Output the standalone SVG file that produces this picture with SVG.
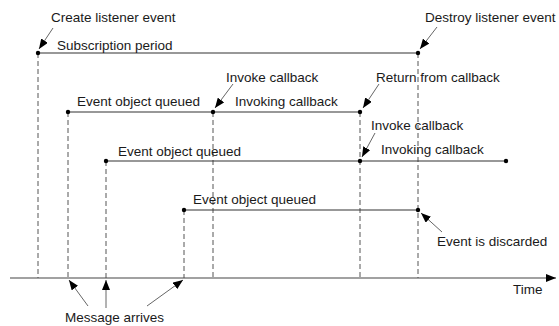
<svg xmlns="http://www.w3.org/2000/svg" width="559" height="326" viewBox="0 0 559 326">
<defs>
<style>
text{font-family:"Liberation Sans",Arial,sans-serif;font-size:13.5px;fill:#1a1a1a}
.tl{stroke:#333;stroke-width:1.2;fill:none}
.ax{stroke:#444;stroke-width:1.2;fill:none}
.dash{stroke:#555;stroke-width:1;stroke-dasharray:5,3;fill:none}
.lead{stroke:#666;stroke-width:1;fill:none}
.dot{fill:#000}
</style>
<marker id="ah" viewBox="0 0 10 8" refX="10" refY="4" markerWidth="10" markerHeight="8" markerUnits="userSpaceOnUse" orient="auto">
<path d="M0,0 L10,4 L0,8 Z" fill="#000"/>
</marker>
</defs>
<rect width="559" height="326" fill="#fff"/>
<g id="guides">
<line class="dash" x1="38" y1="53" x2="38" y2="278"/>
<line class="dash" x1="68" y1="112" x2="68" y2="278"/>
<line class="dash" x1="106" y1="161" x2="106" y2="278"/>
<line class="dash" x1="184" y1="210" x2="184" y2="278"/>
<line class="dash" x1="213" y1="112" x2="213" y2="278"/>
<line class="dash" x1="360" y1="112" x2="360" y2="278"/>
<line class="dash" x1="418" y1="53" x2="418" y2="278"/>
</g>
<g id="axis">
<line class="ax" x1="10" y1="278" x2="556" y2="278" marker-end="url(#ah)"/>
<text x="513" y="294">Time</text>
</g>
<g id="subscription">
<line class="tl" x1="38" y1="53" x2="418" y2="53"/>
<circle class="dot" cx="38" cy="53" r="2.2"/>
<circle class="dot" cx="418" cy="53" r="2.2"/>
<text x="57" y="50">Subscription period</text>
</g>
<g id="event1">
<line class="tl" x1="68" y1="112" x2="360" y2="112"/>
<circle class="dot" cx="68" cy="112" r="2.2"/>
<circle class="dot" cx="213" cy="112" r="2.2"/>
<circle class="dot" cx="360" cy="112" r="2.2"/>
<text x="77" y="106">Event object queued</text>
<text x="235" y="106">Invoking callback</text>
</g>
<g id="event2">
<line class="tl" x1="106" y1="161" x2="506" y2="161"/>
<circle class="dot" cx="106" cy="161" r="2.2"/>
<circle class="dot" cx="360" cy="161" r="2.2"/>
<circle class="dot" cx="506" cy="161" r="2.2"/>
<text x="118" y="156">Event object queued</text>
<text x="381" y="154">Invoking callback</text>
</g>
<g id="event3">
<line class="tl" x1="184" y1="210" x2="418" y2="210"/>
<circle class="dot" cx="184" cy="210" r="2.2"/>
<circle class="dot" cx="418" cy="210" r="2.2"/>
<text x="193" y="204">Event object queued</text>
</g>
<g id="annotations">
<text x="51" y="22">Create listener event</text>
<text x="425" y="22">Destroy listener event</text>
<text x="226" y="82">Invoke callback</text>
<text x="376" y="82">Return from callback</text>
<text x="371" y="130">Invoke callback</text>
<text x="437" y="246">Event is discarded</text>
<text x="65" y="322">Message arrives</text>
</g>
<g id="connectors">
<line class="lead" x1="53" y1="28" x2="39" y2="49" marker-end="url(#ah)"/>
<line class="lead" x1="437" y1="27" x2="420" y2="49" marker-end="url(#ah)"/>
<line class="lead" x1="233" y1="84" x2="215" y2="108" marker-end="url(#ah)"/>
<line class="lead" x1="379" y1="84" x2="363" y2="108" marker-end="url(#ah)"/>
<line class="lead" x1="375" y1="133" x2="362" y2="157" marker-end="url(#ah)"/>
<line class="lead" x1="442" y1="232" x2="421" y2="213" marker-end="url(#ah)"/>
<line class="lead" x1="88" y1="306" x2="69" y2="280" marker-end="url(#ah)"/>
<line class="lead" x1="106" y1="308" x2="106" y2="280" marker-end="url(#ah)"/>
<line class="lead" x1="147" y1="306" x2="183" y2="280" marker-end="url(#ah)"/>
</g>
</svg>
